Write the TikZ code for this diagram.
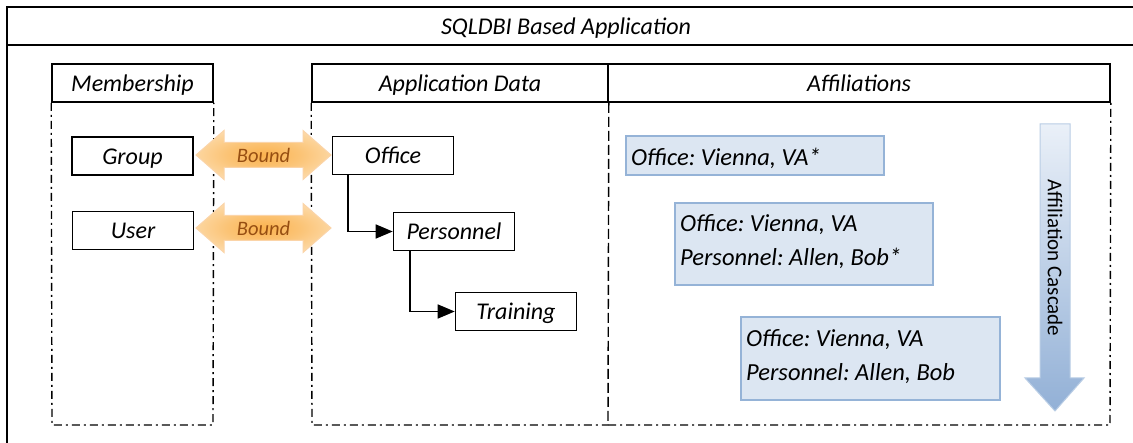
\documentclass[tikz,border=0pt]{standalone}
\usepackage{fontspec}
\setmainfont{Carlito}
\usetikzlibrary{arrows.meta}
\definecolor{bcore}{RGB}{250,178,78}
\definecolor{bedge}{RGB}{254,238,214}
\colorlet{bmid}{bcore!70!bedge}
\definecolor{bline}{RGB}{251,212,168}
\definecolor{btext}{RGB}{150,78,18}
\definecolor{afffill}{RGB}{220,230,242}
\definecolor{affline}{RGB}{149,179,215}
\definecolor{casctop}{RGB}{234,240,248}
\definecolor{cascbot}{RGB}{146,176,214}
\definecolor{cascline}{RGB}{185,205,229}
\pgfdeclareradialshading{boundshade}{\pgfpoint{0bp}{0bp}}{color(0bp)=(bcore); color(14bp)=(bmid); color(40bp)=(bedge); color(50bp)=(bedge)}
\begin{document}
\frenchspacing
\begin{tikzpicture}[x=1pt,y=-1pt,
  txt/.style={font=\fontsize{24}{28}\selectfont\itshape, text height=21.5pt, text depth=5pt},
  hdr/.style={txt, draw, line width=1.6pt, minimum height=38pt, inner sep=0pt},
  item/.style={txt, draw, line width=1.6pt, minimum width=121pt, minimum height=38pt, inner sep=0pt},
  affbox/.style={draw=affline, fill=afffill, line width=1.5pt, minimum width=258pt, inner sep=0pt},
  afftxt/.style={font=\fontsize{24.5}{28}\selectfont\itshape, anchor=base west, inner sep=0pt},
  lane/.style={line width=1.4pt, dash pattern=on 8pt off 4pt on 2pt off 4pt},
  conn/.style={line width=1.6pt, -{Triangle[length=17pt,width=14pt]}},
  boundarrow/.style={shading=boundshade, draw=bline, line width=1pt},
  boundtxt/.style={font=\fontsize{20.5}{24}\selectfont\itshape, text=btext, inner sep=0pt, text height=20pt, text depth=4pt}
]
\useasboundingbox (0,0) rectangle (1133,443);
\fill[white] (0,0) rectangle (1133,443);

% outer frame (cropped at right and bottom)
\begin{scope}
  \clip (0,0) rectangle (1133,443);
  \draw[line width=1.5pt] (7,470) -- (7,7) -- (1160,7);
  \draw[line width=1.5pt] (7,45) -- (1160,45);
\end{scope}
\node[txt, inner sep=0pt] (title) at (566,26) {SQLDBI Based Application};

% headers
\node[hdr, minimum width=161pt] (hmem) at (132.5,83) {Membership};
\node[hdr, minimum width=296pt] (happ) at (460,83) {Application Data};
\node[hdr, minimum width=502pt] (haff) at (859,83) {Affiliations};

% lanes
\draw[lane] (hmem.south west) -- (52,425) -- (213,425) -- (hmem.south east);
\draw[lane] (happ.south west) -- (312,425) -- (608,425);
\draw[lane] (608,425) -- (1110,425) -- (haff.south east);
\draw[line width=1.4pt, dash pattern=on 10pt off 4pt] (happ.south east) -- (608,425);

% membership items
\node[item] (group) at (132.5,156) {Group};
\node[item] (user) at (133,230.5) {User};

% application data items
\node[item] (office) at (393,155.5) {Office};
\node[item] (personnel) at (454,231.5) {Personnel};
\node[item] (training) at (516,311.5) {Training};

\draw[conn] ([xshift=16pt]office.south west) |- (personnel.west);
\draw[conn] ([xshift=17pt]personnel.south west) |- (training.west);

% bound arrows
\path[boundarrow] (196,155) -- (224,130.5) -- (224,142.5) -- (303,142.5) -- (303,130.5)
  -- (331,155) -- (303,179.5) -- (303,167.5) -- (224,167.5) -- (224,179.5) -- cycle;
\node[boundtxt] (bound1) at (263.5,155) {Bound};
\path[boundarrow] (196,228) -- (224,203.5) -- (224,215.5) -- (303,215.5) -- (303,203.5)
  -- (331,228) -- (303,252.5) -- (303,240.5) -- (224,240.5) -- (224,252.5) -- cycle;
\node[boundtxt] (bound2) at (263.5,228) {Bound};

% affiliations
\node[affbox, minimum height=39pt] (aff1) at (755,155.5) {};
\node[afftxt] (aff1a) at (631,165.5) {Office: Vienna, VA*};
\node[affbox, minimum height=82pt] (aff2) at (804,244) {};
\node[afftxt] (aff2a) at (680,232) {Office: Vienna, VA};
\node[afftxt] (aff2b) at (680,266) {Personnel: Allen, Bob*};
\node[affbox, minimum width=259pt, minimum height=83pt] (aff3) at (870.5,358.5) {};
\node[afftxt] (aff3a) at (746,347) {Office: Vienna, VA};
\node[afftxt] (aff3b) at (746,381) {Personnel: Allen, Bob};

% cascade arrow
\shade[top color=casctop, bottom color=cascbot, draw=cascline, line width=1pt]
  (1040,124) -- (1070,124) -- (1070,378) -- (1084,378) -- (1055,411) -- (1025,378) -- (1040,378) -- cycle;
\node[font=\fontsize{21}{25}\selectfont, rotate=-90, inner sep=0pt] (cascade) at (1055,258) {Affiliation Cascade};
\end{tikzpicture}
\end{document}
